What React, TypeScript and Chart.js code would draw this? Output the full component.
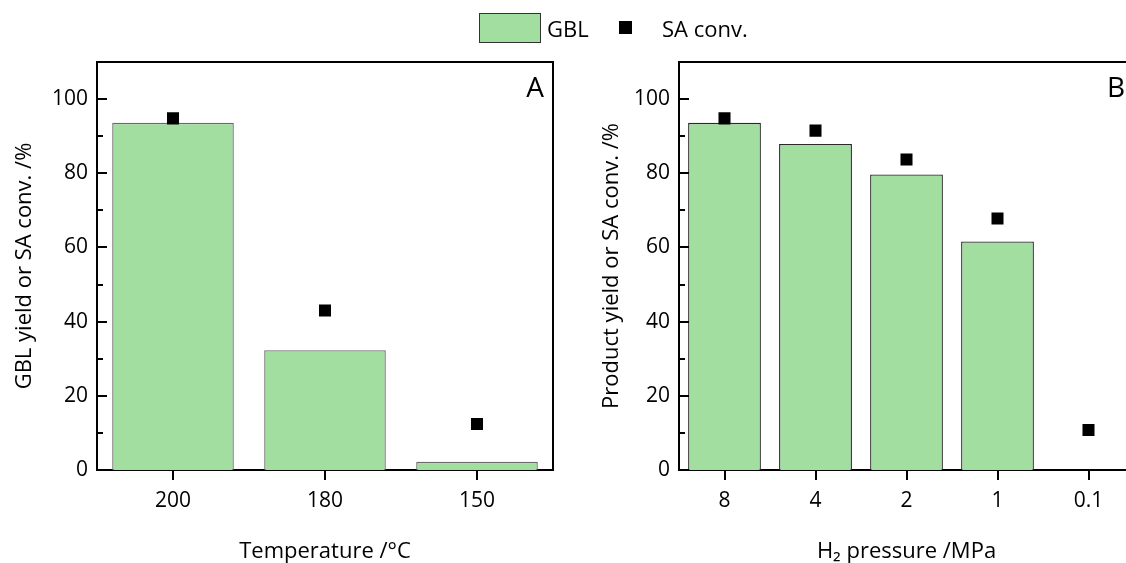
import React, { useEffect, useRef } from "react";
import { Chart, registerables } from "chart.js";

Chart.register(...registerables);

// ---- Data ----
const tempCategories = ["200", "180", "150"];
const tempGBL = [93.6, 32.3, 2.2];
const tempSAconv = [94.8, 43.0, 12.4];

const pressureCategories = ["8", "4", "2", "1", "0.1"];
const pressureGBL: (number | null)[] = [93.6, 87.9, 79.7, 61.6, null];
const pressureSAconv = [94.8, 91.5, 83.7, 67.8, 10.8];

const yTickValues = [0, 20, 40, 60, 80, 100];
const yMinorValues = [10, 30, 50, 70, 90];

const FONT = "'Open Sans', 'Noto Sans', 'DejaVu Sans', sans-serif";
const GREEN = "#A2DEA0";

type PanelSpec = {
  categories: string[];
  gbl: (number | null)[];
  sa: number[];
  xTitle: string;
  yTitle: string;
  letter: string;
  barBorder: string;
  yWidth: number;
};

const framePlugin = {
  id: "frame",
  afterDraw(chart: any, _args: any, opts: any) {
    const { ctx, chartArea } = chart;
    const y = chart.scales.y;
    ctx.save();
    ctx.strokeStyle = "#000";
    ctx.lineWidth = 2;
    ctx.beginPath();
    ctx.moveTo(chartArea.left, chartArea.top);
    ctx.lineTo(chartArea.right, chartArea.top);
    ctx.lineTo(chartArea.right, chartArea.bottom);
    ctx.stroke();
    ctx.beginPath();
    yTickValues.forEach((v) => {
      const py = Math.round(y.getPixelForValue(v));
      ctx.moveTo(chartArea.left, py);
      ctx.lineTo(chartArea.left + 10, py);
    });
    yMinorValues.forEach((v) => {
      const py = Math.round(y.getPixelForValue(v));
      ctx.moveTo(chartArea.left, py);
      ctx.lineTo(chartArea.left + 6, py);
    });
    ctx.stroke();
    ctx.fillStyle = "#000";
    ctx.font = `28px ${FONT}`;
    ctx.textAlign = "center";
    ctx.textBaseline = "middle";
    ctx.fillText(opts.letter, chartArea.right - 18, chartArea.top + 27);
    ctx.restore();
  },
};

function Panel({ spec, left, width }: { spec: PanelSpec; left: number; width: number }) {
  const ref = useRef<HTMLCanvasElement>(null);
  useEffect(() => {
    if (!ref.current) return;
    const chart = new Chart(ref.current, {
      type: "bar",
      data: {
        labels: spec.categories,
        datasets: [
          {
            type: "line",
            label: "SA conv.",
            data: spec.sa,
            showLine: false,
            pointStyle: "rect",
            pointRadius: 8.5,
            pointBackgroundColor: "#000",
            pointBorderWidth: 0,
            borderColor: "#000",
            order: 0,
          } as any,
          {
            type: "bar",
            label: "GBL",
            data: spec.gbl,
            backgroundColor: GREEN,
            borderColor: spec.barBorder,
            borderWidth: 1.3,
            barPercentage: 0.8,
            categoryPercentage: 1.0,
            order: 1,
          },
        ],
      },
      options: {
        animation: false,
        responsive: false,
        maintainAspectRatio: false,
        layout: { padding: { top: 62, right: 17, left: 0, bottom: 0 } },
        plugins: {
          legend: { display: false },
          tooltip: { enabled: false },
          frame: { letter: spec.letter },
        } as any,
        scales: {
          x: {
            type: "category",
            offset: true,
            grid: {
              display: true,
              offset: false,
              drawOnChartArea: false,
              drawTicks: true,
              tickLength: 10,
              color: "#000",
              lineWidth: 2,
            },
            border: { display: true, color: "#000", width: 2 },
            ticks: {
              color: "#000",
              font: { family: FONT, size: 21 },
              padding: 8,
              maxRotation: 0,
            },
            title: {
              display: true,
              text: spec.xTitle,
              color: "#000",
              font: { family: FONT, size: 22 },
              padding: { top: 0, bottom: -2 },
            },
            afterFit: (s: any) => {
              s.height = 93;
            },
          },
          y: {
            min: 0,
            max: 110,
            ticks: {
              stepSize: 20,
              color: "#000",
              font: { family: FONT, size: 21 },
              padding: 9,
            },
            afterBuildTicks: (s: any) => {
              s.ticks = s.ticks.filter((t: any) => t.value <= 100);
            },
            grid: { display: false, drawTicks: false },
            border: { display: true, color: "#000", width: 2 },
            title: {
              display: true,
              text: spec.yTitle,
              color: "#000",
              font: { family: FONT, size: 22 },
              padding: { top: 12, bottom: 0 },
            },
            afterFit: (s: any) => {
              s.width = spec.yWidth;
            },
          },
        },
      },
      plugins: [framePlugin],
    });
    return () => chart.destroy();
  }, [spec]);
  return (
    <canvas
      ref={ref}
      width={width}
      height={563}
      style={{ position: "absolute", left, top: 0, width, height: 563 }}
    />
  );
}

const specA: PanelSpec = {
  categories: tempCategories,
  gbl: tempGBL,
  sa: tempSAconv,
  xTitle: "Temperature /°C",
  yTitle: "GBL yield or SA conv. /%",
  letter: "A",
  barBorder: "#6a6a6a",
  yWidth: 97,
};

const specB: PanelSpec = {
  categories: pressureCategories,
  gbl: pressureGBL,
  sa: pressureSAconv,
  xTitle: "H₂ pressure /MPa",
  yTitle: "Product yield or SA conv. /%",
  letter: "B",
  barBorder: "#2a2a2a",
  yWidth: 92,
};

export default function App() {
  return (
    <div
      style={{
        position: "fixed",
        left: 0,
        top: 0,
        width: 1126,
        height: 563,
        overflow: "hidden",
        background: "#fff",
        fontFamily: FONT,
      }}
    >
      <Panel spec={specA} left={0} width={570} />
      <Panel spec={specB} left={587} width={564} />
      <div
        style={{
          position: "absolute",
          left: 479,
          top: 13,
          width: 60,
          height: 28,
          background: GREEN,
          border: "1px solid #333",
        }}
      />
      <div style={{ position: "absolute", left: 547, top: 13, fontSize: 22, lineHeight: "30px", color: "#000" }}>
        GBL
      </div>
      <div style={{ position: "absolute", left: 619, top: 21, width: 13, height: 13, background: "#000" }} />
      <div style={{ position: "absolute", left: 662, top: 13, fontSize: 22, lineHeight: "30px", color: "#000" }}>
        SA conv.
      </div>
    </div>
  );
}
